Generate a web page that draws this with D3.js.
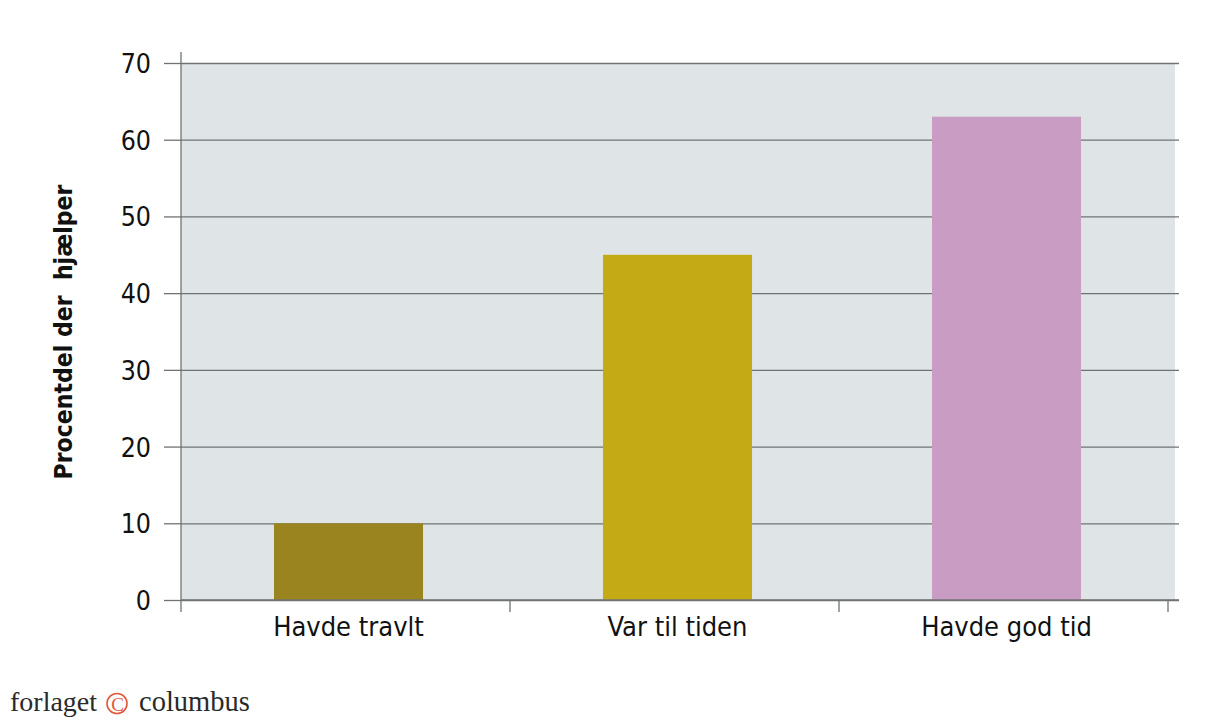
<!DOCTYPE html>
<html>
<head>
<meta charset="utf-8">
<script src="https://cdn.jsdelivr.net/npm/d3@7"></script>
<style>
  body { margin: 0; background: #fff; }
  svg { display: block; }
</style>
</head>
<body>
<div id="chart"></div>
<script>
// chart data
const categories = ["Havde travlt", "Var til tiden", "Havde god tid"];
const values = [10, 45, 63];
const barColors = ["#9a8420", "#c4aa14", "#c99dc3"];
const yTicks = [0, 10, 20, 30, 40, 50, 60, 70];
const yTitle = "Procentdel der  hj\u00e6lper";

const W = 1228, H = 721;
const plot = { left: 181, right: 1175, top: 63, bottom: 600 };

const svg = d3.select("#chart").append("svg")
    .attr("width", W).attr("height", H);

const font = "'DejaVu Sans Condensed', 'DejaVu Sans', sans-serif";

// scales
const x = d3.scaleBand()
    .domain(categories)
    .range([184, 1171])
    .paddingInner(0.547)
    .paddingOuter(0.2735);

const xEdge = d3.scaleBand().domain(categories).range([181, 1168]);

const y = d3.scaleLinear()
    .domain([0, 70])
    .range([plot.bottom, plot.top]);

// plot background
svg.append("rect")
    .attr("x", plot.left).attr("y", plot.top)
    .attr("width", plot.right - plot.left)
    .attr("height", plot.bottom - plot.top)
    .attr("fill", "#dfe5e6");

// gridlines across the plot
svg.append("g")
    .attr("transform", `translate(${plot.left},0)`)
    .call(d3.axisRight(y).tickValues(yTicks).tickSize(1179 - plot.left).tickFormat(""))
    .call(g => g.select(".domain").remove())
    .call(g => g.selectAll("line").attr("stroke", "#6f7373").attr("stroke-width", 1.3));

// bars
svg.selectAll(".bar")
    .data(values)
    .enter()
    .append("rect")
        .attr("class", "bar")
        .attr("x", (d, i) => x(categories[i]))
        .attr("y", d => y(d))
        .attr("width", x.bandwidth())
        .attr("height", d => plot.bottom - y(d))
        .attr("fill", (d, i) => barColors[i]);

// y axis with short stubs and labels
const yAxis = svg.append("g")
    .attr("transform", `translate(${plot.left},0)`)
    .call(d3.axisLeft(y).tickValues(yTicks).tickSize(17).tickPadding(13).tickSizeOuter(0))
    .call(g => g.select(".domain").remove())
    .call(g => g.selectAll("line").attr("stroke", "#6f7373").attr("stroke-width", 1.3));
yAxis.selectAll("text")
    .attr("font-family", font)
    .attr("font-size", 26.5)
    .attr("fill", "#111")
    .attr("dy", "0.36em");

// vertical axis line
svg.append("line")
    .attr("x1", plot.left).attr("x2", plot.left)
    .attr("y1", 52).attr("y2", 612)
    .attr("stroke", "#6f7373").attr("stroke-width", 1.3);

// x axis line and band edge ticks
svg.append("line")
    .attr("x1", plot.left).attr("x2", 1179)
    .attr("y1", plot.bottom).attr("y2", plot.bottom)
    .attr("stroke", "#6f7373").attr("stroke-width", 1.3);

const edges = categories.map(c => xEdge(c)).concat([xEdge.range()[1]]);
svg.selectAll(".edge")
    .data(edges.slice(1))
    .enter()
    .append("line")
        .attr("x1", d => d).attr("x2", d => d)
        .attr("y1", plot.bottom).attr("y2", 612)
        .attr("stroke", "#6f7373").attr("stroke-width", 1.3);

// category labels
svg.selectAll(".cat")
    .data(categories)
    .enter()
    .append("text")
        .attr("x", d => x(d) + x.bandwidth() / 2)
        .attr("y", 636)
        .attr("text-anchor", "middle")
        .attr("font-family", font)
        .attr("font-size", 27)
        .attr("fill", "#111")
        .text(d => d);

// y axis title
svg.append("text")
    .attr("transform", `translate(72, 332) rotate(-90)`)
    .attr("text-anchor", "middle")
    .attr("font-family", font)
    .attr("font-weight", "bold")
    .attr("font-size", 24.5)
    .attr("fill", "#111")
    .attr("xml:space", "preserve")
    .style("white-space", "pre")
    .text(yTitle);

// publisher mark
const logo = svg.append("g");
logo.append("text")
    .attr("x", 10).attr("y", 711)
    .attr("font-family", "'Liberation Serif', serif")
    .attr("font-size", 28)
    .attr("fill", "#2a2a2a")
    .text("forlaget");
logo.append("circle")
    .attr("cx", 117).attr("cy", 703.5).attr("r", 10)
    .attr("fill", "none").attr("stroke", "#e0583c").attr("stroke-width", 1.6);
logo.append("text")
    .attr("x", 117.5).attr("y", 710.5)
    .attr("text-anchor", "middle")
    .attr("font-family", "'Liberation Serif', serif")
    .attr("font-size", 19)
    .attr("fill", "#e0583c")
    .text("C");
logo.append("text")
    .attr("x", 139).attr("y", 711)
    .attr("font-family", "'Liberation Serif', serif")
    .attr("font-size", 28.5)
    .attr("fill", "#2a2a2a")
    .text("columbus");
</script>
</body>
</html>
